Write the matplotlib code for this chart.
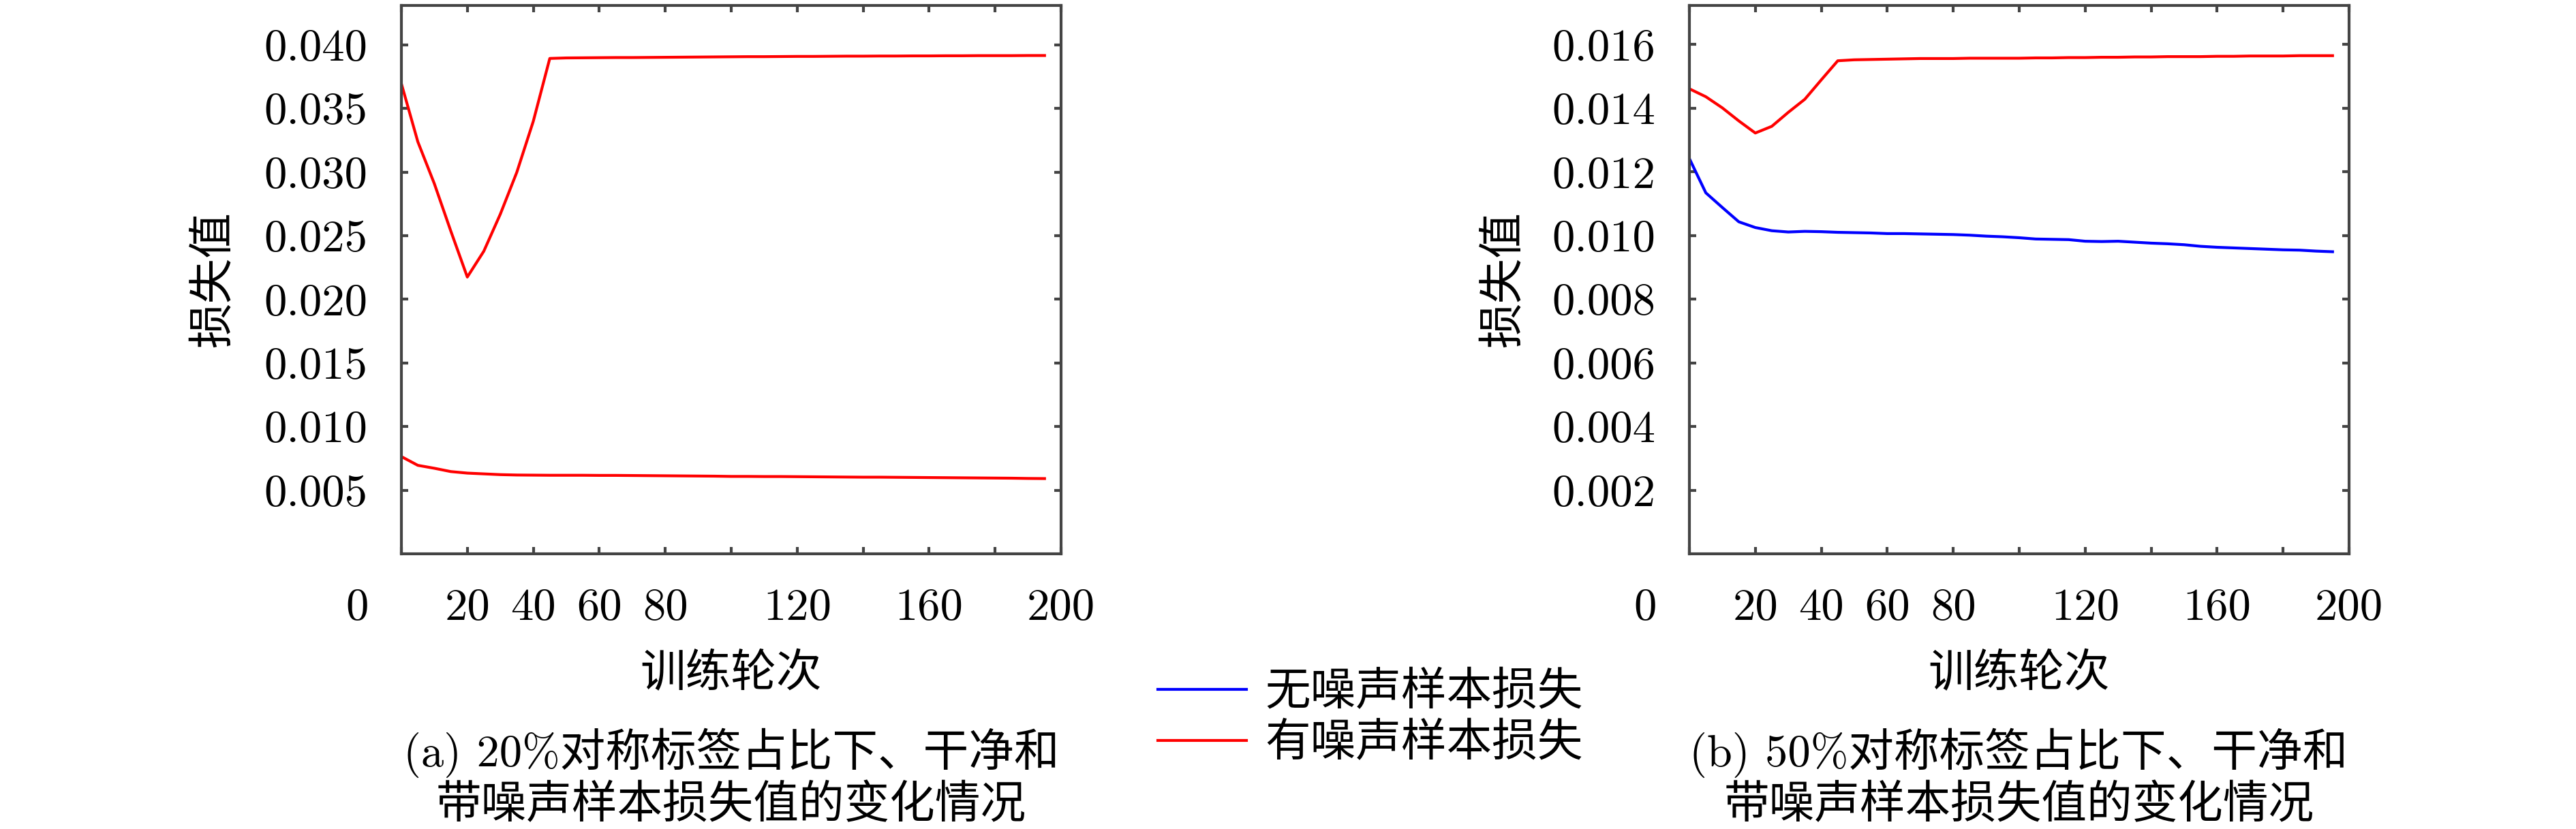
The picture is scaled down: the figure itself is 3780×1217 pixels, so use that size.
import numpy as np
import matplotlib
matplotlib.use('Agg')
import matplotlib.pyplot as plt

plt.rcParams['font.family'] = ['cmr10', 'Noto Sans CJK SC']
plt.rcParams['axes.unicode_minus'] = False
plt.rcParams['axes.formatter.use_mathtext'] = True

# epochs, sampled every 5
epochs = list(range(0, 200, 5))

# (a) 20% symmetric noise
a_noisy = [0.03696, 0.03238, 0.02909, 0.02536, 0.02175, 0.02378, 0.02669, 0.02998,
           0.03399, 0.03893, 0.03897, 0.03898, 0.03899, 0.03900, 0.03900, 0.03901,
           0.03902, 0.03903, 0.03904, 0.03905, 0.03906, 0.03907, 0.03907, 0.03908,
           0.03909, 0.03909, 0.03910, 0.03911, 0.03911, 0.03912, 0.03912, 0.03913,
           0.03913, 0.03914, 0.03914, 0.03915, 0.03915, 0.03915, 0.03916, 0.03916]
a_clean = [0.00764, 0.00695, 0.00672, 0.00646, 0.00634, 0.00628, 0.00622, 0.00619,
           0.00618, 0.00617, 0.00617, 0.00617, 0.00616, 0.00616, 0.00615, 0.00614,
           0.00613, 0.00612, 0.00611, 0.00610, 0.00608, 0.00608, 0.00607, 0.00607,
           0.00606, 0.00605, 0.00604, 0.00603, 0.00602, 0.00602, 0.00601, 0.00600,
           0.00599, 0.00598, 0.00597, 0.00596, 0.00595, 0.00594, 0.00592, 0.00591]

# (b) 50% symmetric noise
b_noisy = [0.01461, 0.01436, 0.01401, 0.01360, 0.01322, 0.01343, 0.01387, 0.01428,
           0.01489, 0.01549, 0.01552, 0.01553, 0.01554, 0.01555, 0.01556, 0.01556,
           0.01556, 0.01557, 0.01557, 0.01557, 0.01557, 0.01558, 0.01558, 0.01559,
           0.01559, 0.01560, 0.01560, 0.01561, 0.01561, 0.01562, 0.01562, 0.01562,
           0.01563, 0.01563, 0.01564, 0.01564, 0.01564, 0.01565, 0.01565, 0.01565]
b_clean = [0.01242, 0.01134, 0.01088, 0.01043, 0.01025, 0.01015, 0.01011, 0.01013,
           0.01012, 0.01010, 0.01009, 0.01008, 0.01006, 0.01006, 0.01005, 0.01004,
           0.01003, 0.01001, 0.00998, 0.00996, 0.00993, 0.00989, 0.00988, 0.00987,
           0.00982, 0.00981, 0.00982, 0.00979, 0.00976, 0.00974, 0.00971, 0.00966,
           0.00963, 0.00961, 0.00959, 0.00957, 0.00955, 0.00954, 0.00951, 0.00949]

xticks = list(range(0, 201, 20))
xticklabels = ['', '20', '40', '60', '80', '', '120', '', '160', '', '200']
a_yticks = [0.005, 0.010, 0.015, 0.020, 0.025, 0.030, 0.035, 0.040]
b_yticks = [0.002, 0.004, 0.006, 0.008, 0.010, 0.012, 0.014, 0.016]

label_clean = '无噪声样本损失'
label_noisy = '有噪声样本损失'
ylabel = '损失值'
xlabel = '训练轮次'
cap_a = '(a) 20%对称标签占比下、干净和\n带噪声样本损失值的变化情况'
cap_b = '(b) 50%对称标签占比下、干净和\n带噪声样本损失值的变化情况'

fs = 16
axcol = '#444444'

fig = plt.figure(figsize=(12.6, 4.0567), dpi=300)
ax1 = fig.add_axes([0.1558, 0.332, 0.2561, 0.6615])
ax2 = fig.add_axes([0.6558, 0.332, 0.2561, 0.6615])

ax1.plot(epochs, a_noisy, color='red', lw=1.0)
ax1.plot(epochs, a_clean, color='red', lw=1.0)
ax2.plot(epochs, b_clean, color='blue', lw=1.0, label=label_clean)
ax2.plot(epochs, b_noisy, color='red', lw=1.0, label=label_noisy)


def style(ax, yticks, ytop, ylab_x):
    ax.set_xlim(0, 200)
    ax.set_ylim(0, ytop)
    ax.set_xticks(xticks)
    ax.set_xticklabels(xticklabels)
    ax.set_yticks(yticks)
    ax.set_yticklabels(['%.3f' % v for v in yticks])
    ax.tick_params(direction='in', length=2.4, width=1.0, top=True, right=True,
                   labelsize=fs, pad=12, color=axcol, labelcolor='black')
    for s in ax.spines.values():
        s.set_color(axcol)
        s.set_linewidth(1.0)
    # the "0" label sits left of the axis in the original
    ax.text(-13.3, -0.0621, '0', transform=ax.get_xaxis_transform(),
            ha='center', va='top', fontsize=fs, clip_on=False)
    ax.set_xlabel(xlabel, fontsize=fs, va='center')
    ax.xaxis.set_label_coords(0.5, -0.22)
    ax.set_ylabel(ylabel, fontsize=fs, va='center', ha='center')
    ax.yaxis.set_label_coords(ylab_x, 0.5)


style(ax1, a_yticks, 0.0431, -0.284)
style(ax2, b_yticks, 0.01723, -0.281)

fig.text(0.2839, 0.0624, cap_a, ha='center', va='center', fontsize=fs,
         linespacing=1.2)
fig.text(0.7837, 0.0624, cap_b, ha='center', va='center', fontsize=fs,
         linespacing=1.2)

h, l = ax2.get_legend_handles_labels()
fig.legend(h, l, loc='center', bbox_to_anchor=(0.532, 0.1335), frameon=False,
           fontsize=fs, handlelength=1.95, handletextpad=0.4, labelspacing=0.2,
           borderpad=0)

fig.savefig('out.png', dpi=300)
